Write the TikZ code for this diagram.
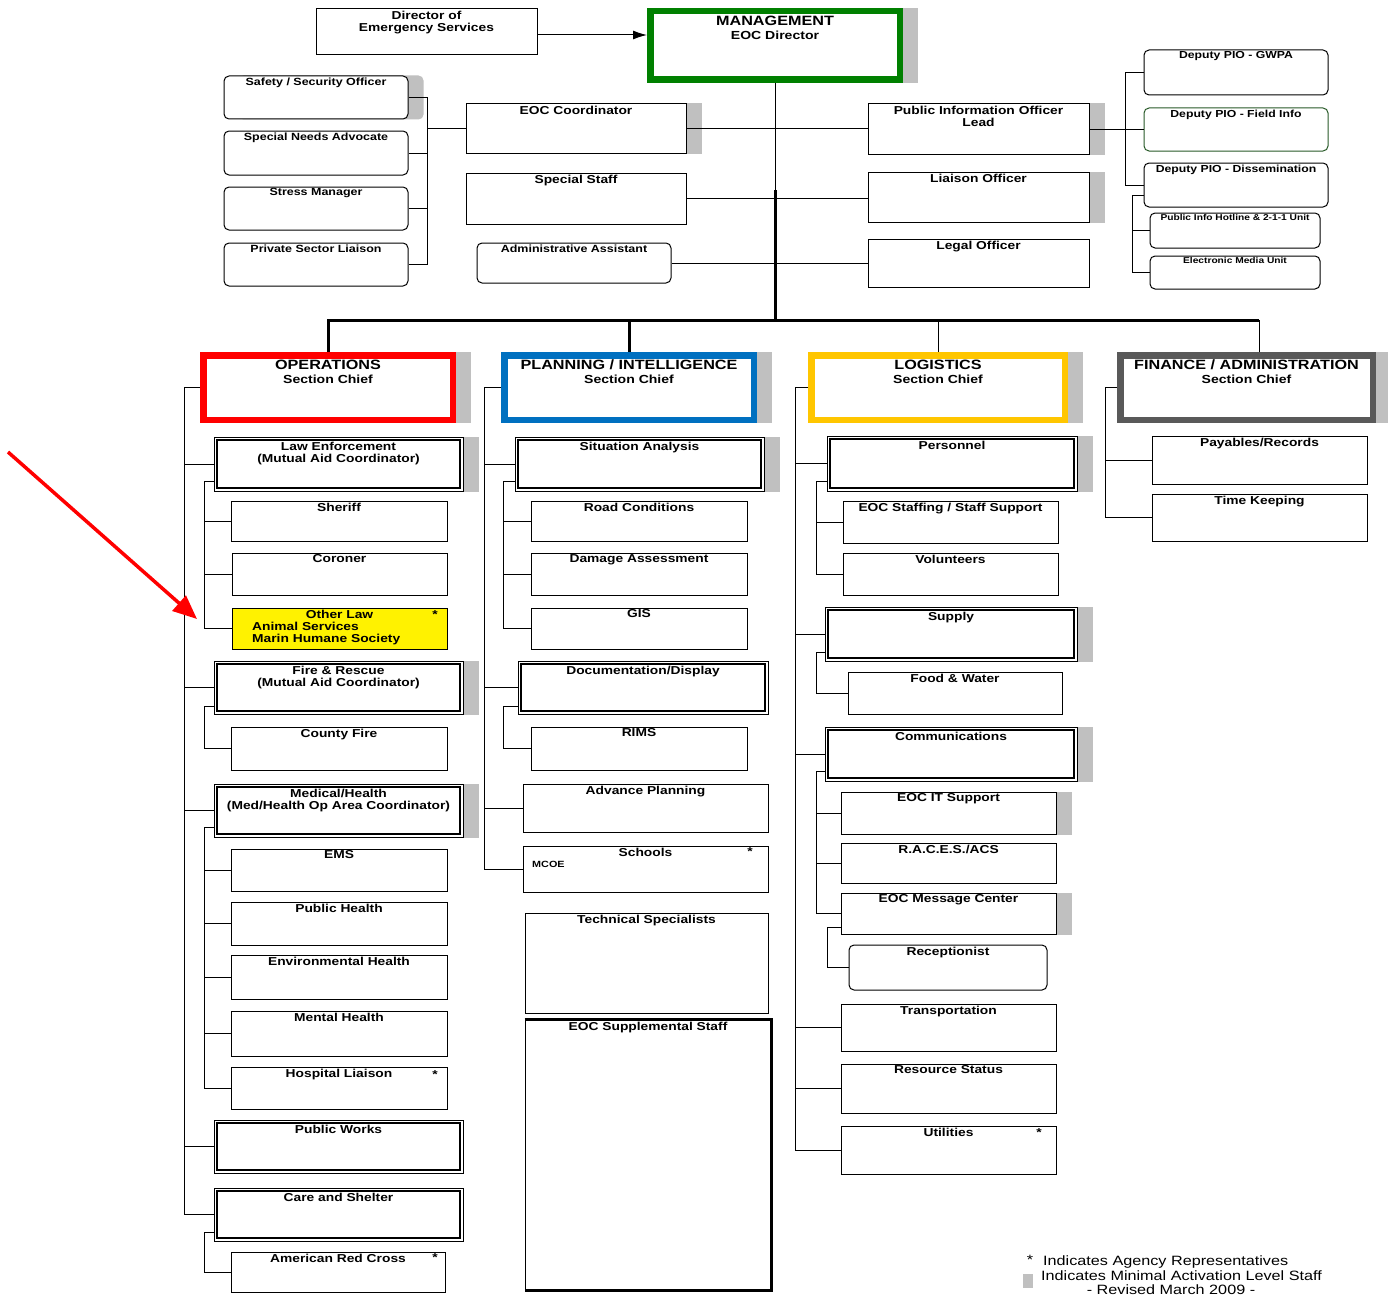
\documentclass[tikz,border=0pt]{standalone}
\usepackage{fontspec}
\setmainfont{Liberation Sans}[FakeStretch=1.2]
\usetikzlibrary{fit,backgrounds,arrows.meta}
\definecolor{shd}{RGB}{192,192,192}
\definecolor{mgreen}{RGB}{0,128,0}
\definecolor{pblue}{RGB}{0,112,192}
\definecolor{lgold}{RGB}{255,198,0}
\definecolor{fgray}{RGB}{89,89,89}
\definecolor{fgreen}{RGB}{40,90,40}
\newcommand\lblf{\fontsize{11.5}{12.5}\selectfont\bfseries}
\newcommand\hdrf{\fontsize{13.5}{14}\selectfont\bfseries}
\newcommand\subf{\fontsize{11.7}{14}\selectfont\bfseries}
\newcommand\stf{\fontsize{10.4}{12}\selectfont\bfseries}
\newcommand\pif{\fontsize{10.2}{12}\selectfont\bfseries}
\newcommand\tnf{\fontsize{8.5}{10}\selectfont\bfseries}
\newcommand\legf{\fontsize{13.5}{14}\selectfont}
\tikzset{
  box/.style={draw, fill=white, line width=1pt, inner sep=0pt},
  rbox/.style={box, rounded corners=5pt},
  ybox/.style={box, fill=yellow},
  dbox/.style={box, path picture={\draw[line width=1.7pt]
      ([shift={(3pt,-3pt)}]path picture bounding box.north west) rectangle
      ([shift={(-3pt,3pt)}]path picture bounding box.south east);}},
  sec/.style={draw, fill=white, line width=6.5pt, inner sep=-3.25pt},
  lblbase/.style={anchor=north, inner sep=0pt, font=\lblf, align=center},
  lbl/.style={lblbase, yshift=-2pt},
  lbld/.style={lblbase, yshift=-5pt},
  lblh/.style={lblbase, font=\subf, yshift=-7.5pt},
  conn/.style={draw, line width=1pt},
  busline/.style={draw, line width=3pt},
  star/.style={anchor=north, inner sep=0pt, font=\lblf},
}
\newcommand\bx[5][box]{\node[#1,fit={(#3) (#4)}] (#2) {};\node[lbl] (#2-t) at (#2.north) {#5};}
\newcommand\dbx[4]{\node[dbox,fit={(#2) (#3)}] (#1) {};\node[lbld] (#1-t) at (#1.north) {#4};}
\newcommand\sx[6]{\node[sec,draw=#2,fit={(#3) (#4)}] (#1) {};\node[lblh] (#1-t) at (#1.north) {{\hdrf #5}\\{\subf #6}};}
\newcommand\shadowr[1]{\begin{scope}[on background layer]\fill[shd] ([xshift=15pt]#1.north west) rectangle ([xshift=15pt]#1.south east);\end{scope}}
\begin{document}
\begin{tikzpicture}[x=1pt,y=-1pt]
\begin{scope}[on background layer]\fill[white] (0,0) rectangle (1388,1303);\end{scope}
\useasboundingbox (0,0) rectangle (1388,1303);

% ---------- top ----------
\bx{dir}{316,9}{537,55}{Director of\\Emergency Services}
\sx{mgmt}{mgreen}{647,8}{903,83}{MANAGEMENT}{EOC Director}
\shadowr{mgmt}

\bx[rbox]{safety}{224,76}{408,119}{\stf Safety / Security Officer}
\begin{scope}[on background layer]\fill[shd, rounded corners=5pt] ([xshift=15pt]safety.north west) rectangle ([xshift=15pt]safety.south east);\end{scope}
\bx[rbox]{needs}{224,131}{408,175}{\stf Special Needs Advocate}
\bx[rbox]{stress}{224,187}{408,230}{\stf Stress Manager}
\bx[rbox]{private}{224,243}{408,286}{\stf Private Sector Liaison}

\bx{eocc}{466,104}{686,153}{EOC Coordinator}
\shadowr{eocc}
\bx{special}{466,173}{686,224}{Special Staff}
\bx[rbox]{admin}{477,243}{671,283}{\stf Administrative Assistant}

\bx{pio}{868,104}{1089,154}{Public Information Officer\\Lead}
\shadowr{pio}
\bx{liaison}{868,172}{1089,222}{Liaison Officer}
\shadowr{liaison}
\bx{legal}{868,239}{1089,287}{Legal Officer}

\bx[rbox]{gwpa}{1144,50}{1328,95}{\pif Deputy PIO - GWPA}
\bx[rbox,draw=fgreen]{field}{1144,108}{1328,151}{\pif Deputy PIO - Field Info}
\bx[rbox]{dissem}{1144,163}{1328,207}{\pif Deputy PIO - Dissemination}
\bx[rbox]{hotline}{1150,213}{1320,248}{\tnf Public Info Hotline \& 2-1-1 Unit}
\bx[rbox]{media}{1150,256}{1320,289}{\tnf Electronic Media Unit}

% ---------- sections ----------
\sx{ops}{red}{200,352}{456,423}{OPERATIONS}{Section Chief}
\shadowr{ops}
\sx{plan}{pblue}{501,352}{757,423}{PLANNING / INTELLIGENCE}{Section Chief}
\shadowr{plan}
\sx{log}{lgold}{808,352}{1068,423}{LOGISTICS}{Section Chief}
\shadowr{log}
\sx{fin}{fgray}{1117,352}{1376,423}{FINANCE / ADMINISTRATION}{Section Chief}
\shadowr{fin}

% ---------- operations ----------
\dbx{law}{214,437}{463,491}{Law Enforcement\\(Mutual Aid Coordinator)}
\shadowr{law}
\bx{sheriff}{231,501}{447,541}{Sheriff}
\bx{coroner}{232,553}{447,595}{Coroner}
\bx[ybox]{other}{232,608}{447,649}{Other Law}
\node[anchor=north west, inner sep=0pt, align=left, font=\fontsize{11.5}{11.7}\selectfont\bfseries] (other-s) at (252,622) {Animal Services\\Marin Humane Society};
\node[star] (other-star) at (435,610) {*};
\dbx{fire}{214,661}{463,714}{Fire \& Rescue\\(Mutual Aid Coordinator)}
\shadowr{fire}
\bx{cfire}{231,727}{447,770}{County Fire}
\dbx{med}{214,784}{463,837}{Medical/Health\\(Med/Health Op Area Coordinator)}
\shadowr{med}
\bx{ems}{231,849}{447,891}{EMS}
\bx{phealth}{231,902}{447,945}{Public Health}
\bx{env}{231,955}{447,999}{Environmental Health}
\bx{mental}{231,1011}{447,1056}{Mental Health}
\bx{hosp}{231,1067}{447,1109}{Hospital Liaison}
\node[star] (hosp-star) at (435,1070) {*};
\dbx{works}{214,1120}{463,1173}{Public Works}
\dbx{care}{214,1188}{463,1241}{Care and Shelter}
\bx{redx}{231,1252}{445,1292}{American Red Cross}
\node[star] (redx-star) at (435,1253) {*};

% ---------- planning ----------
\dbx{sit}{515,437}{764,491}{Situation Analysis}
\shadowr{sit}
\bx{road}{531,501}{747,541}{Road Conditions}
\bx{damage}{531,553}{747,595}{Damage Assessment}
\bx{gis}{531,608}{747,649}{GIS}
\dbx{doc}{518,661}{768,714}{Documentation/Display}
\bx{rims}{531,727}{747,770}{RIMS}
\bx{adv}{523,784}{768,832}{Advance Planning}
\bx{schools}{523,846}{768,892}{Schools}
\node[star] (schools-star) at (750,847) {*};
\node[anchor=west, inner sep=0pt, font=\fontsize{9}{10}\selectfont\bfseries] (mcoe) at (532,864) {MCOE};
\bx{tech}{525,913}{768,1013}{Technical Specialists}
\bx{supp}{525,1020}{771,1290}{EOC Supplemental Staff}
\draw[line width=2.8pt] (supp.north west) -- (supp.north east) -- (supp.south east) -- (supp.south west);

% ---------- logistics ----------
\dbx{pers}{827,436}{1077,491}{Personnel}
\shadowr{pers}
\bx{staffing}{843,501}{1058,543}{EOC Staffing / Staff Support}
\bx{vol}{843,553}{1058,595}{Volunteers}
\dbx{supply}{825,607}{1077,661}{Supply}
\shadowr{supply}
\bx{food}{848,672}{1062,714}{Food \& Water}
\dbx{comms}{825,727}{1077,781}{Communications}
\shadowr{comms}
\bx{it}{841,792}{1056,834}{EOC IT Support}
\shadowr{it}
\bx{races}{841,843}{1056,883}{R.A.C.E.S./ACS}
\bx{msg}{841,893}{1056,934}{EOC Message Center}
\shadowr{msg}
\bx[rbox]{recep}{849,945}{1047,990}{Receptionist}
\bx{transport}{841,1004}{1056,1051}{Transportation}
\bx{resource}{841,1064}{1056,1113}{Resource Status}
\bx{util}{841,1126}{1056,1174}{Utilities}
\node[star] (util-star) at (1039,1128) {*};

% ---------- finance ----------
\bx{payables}{1152,436}{1367,484}{Payables/Records}
\bx{timek}{1152,494}{1367,541}{Time Keeping}

% ---------- connectors: top ----------
\coordinate (arrY) at (0,35);
\draw[conn,-{Latex[length=14pt,width=9pt]}] (dir.east |- arrY) -- (mgmt.west |- arrY);
\coordinate (trk) at (775,190);
\coordinate (bus) at (775,320);
\coordinate (finD) at (1259,0);
\draw[conn] (mgmt.south) -- (trk);
\draw[busline] (trk) -- (bus);
\draw[busline] (ops.north) -- (ops.north |- bus) -- (bus -| finD);
\draw[busline] (plan.north) -- (plan.north |- bus);
\draw[conn] (log.north) -- (log.north |- bus);
\draw[conn] (fin.north -| finD) -- (bus -| finD);

\coordinate (jL) at (427,0);
\draw[conn] (safety.east) -| (eocc.west -| jL) -- (eocc.west);
\draw[conn] (private.east) -| (eocc.west -| jL);
\draw[conn] (needs.east) -- (needs.east -| jL);
\draw[conn] (stress.east) -- (stress.east -| jL);
\draw[conn] (eocc.east) -- (eocc.east -| pio.west);
\draw[conn] (special.east) -- (special.east -| liaison.west);
\draw[conn] (admin.east) -- (admin.east -| legal.west);

\coordinate (jP) at (1125,0);
\coordinate (jP2) at (1132,0);
\draw[conn] (pio.east) -- (pio.east -| jP);
\draw[conn] (gwpa.west) -| (dissem.west -| jP) -- (dissem.west);
\draw[conn] (field.west) -- (field.west -| jP);
\draw[conn] ([yshift=12pt]dissem.south west) -| (media.west -| jP2) -- (media.west);
\draw[conn] (hotline.west) -- (hotline.west -| jP2);

% ---------- connectors: operations ----------
\coordinate (vO) at (184,0);
\coordinate (vO2) at (204,0);
\draw[conn] (ops.west) -| (care.west -| vO) -- (care.west);
\foreach \n in {law,fire,med,works} {\draw[conn] (\n.west) -- (\n.west -| vO);}
\draw[conn] ([yshift=10pt]law.south west) -| (other.west -| vO2) -- (other.west);
\foreach \n in {sheriff,coroner} {\draw[conn] (\n.west) -- (\n.west -| vO2);}
\draw[conn] ([yshift=8pt]fire.south west) -| (cfire.west -| vO2) -- (cfire.west);
\draw[conn] ([yshift=10pt]med.south west) -| (hosp.west -| vO2) -- (hosp.west);
\foreach \n in {ems,phealth,env,mental} {\draw[conn] (\n.west) -- (\n.west -| vO2);}
\draw[conn] ([yshift=9pt]care.south west) -| (redx.west -| vO2) -- (redx.west);

% ---------- connectors: planning ----------
\coordinate (vP) at (484,0);
\coordinate (vP2) at (503,0);
\draw[conn] (plan.west) -| (schools.west -| vP) -- (schools.west);
\foreach \n in {sit,doc,adv} {\draw[conn] (\n.west) -- (\n.west -| vP);}
\draw[conn] ([yshift=10pt]sit.south west) -| (gis.west -| vP2) -- (gis.west);
\foreach \n in {road,damage} {\draw[conn] (\n.west) -- (\n.west -| vP2);}
\draw[conn] ([yshift=8pt]doc.south west) -| (rims.west -| vP2) -- (rims.west);

% ---------- connectors: logistics ----------
\coordinate (vL) at (795,0);
\coordinate (vL2) at (816,0);
\coordinate (vL3) at (827,0);
\draw[conn] (log.west) -| (util.west -| vL) -- (util.west);
\foreach \n in {pers,supply,comms,transport,resource} {\draw[conn] (\n.west) -- (\n.west -| vL);}
\draw[conn] ([yshift=10pt]pers.south west) -| (vol.west -| vL2) -- (vol.west);
\draw[conn] (staffing.west) -- (staffing.west -| vL2);
\draw[conn] ([yshift=9pt]supply.south west) -| (food.west -| vL2) -- (food.west);
\draw[conn] ([yshift=10pt]comms.south west) -| (msg.west -| vL2) -- (msg.west);
\foreach \n in {it,races} {\draw[conn] (\n.west) -- (\n.west -| vL2);}
\draw[conn] ([yshift=7pt]msg.south west) -| (recep.west -| vL3) -- (recep.west);

% ---------- connectors: finance ----------
\coordinate (vF) at (1105,0);
\draw[conn] (fin.west) -| (timek.west -| vF) -- (timek.west);
\draw[conn] (payables.west) -- (payables.west -| vF);

% ---------- red arrow ----------
\coordinate (raS) at (8,452);
\coordinate (raE) at (197,619);
\draw[red, line width=3.5pt, -{Triangle[length=24pt,width=20pt]}] (raS) -- (raE);

% ---------- legend ----------
\node[anchor=north, inner sep=0pt, font=\legf] (leg-star) at (1030,1255) {*};
\node[anchor=west, inner sep=0pt, font=\legf] (legA) at (1043,1262) {Indicates Agency Representatives};
\node[fill=shd, inner sep=0pt, fit={(1023,1274) (1033,1288)}] (legsq) {};
\node[anchor=west, inner sep=0pt, font=\legf] (legB) at (1041,1276) {Indicates Minimal Activation Level Staff};
\node[inner sep=0pt, font=\legf] (legC) at (1171,1290) {- Revised March 2009 -};
\end{tikzpicture}
\end{document}
